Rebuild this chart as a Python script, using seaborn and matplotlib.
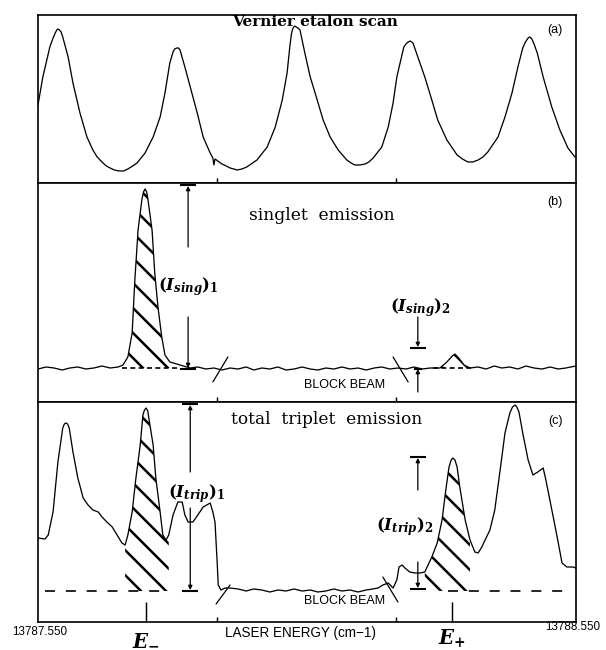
import numpy as np
import matplotlib
matplotlib.use("Agg")
import matplotlib.pyplot as plt
import seaborn as sns

# ---------------- data (x = offset from 13787.550 in 1e-3 cm-1) ----------------
E0 = 13787.550
x_start_label = "13787.550"
x_end_label = "13788.550"

# (a) Vernier etalon scan
etalon_x = [0, 9, 22, 28, 32, 35, 37, 40, 43, 46, 56, 65, 78, 91, 102, 110, 119, 127, 134, 142, 151, 159,
            167, 176, 184, 199, 214, 227, 236, 245, 251, 254, 258, 261, 264, 273, 283, 296, 307, 320, 325,
            327, 329, 342, 350, 357, 364, 370, 379, 388, 407, 426, 441, 454, 463, 468, 471, 474, 477, 480,
            483, 487, 496, 506, 519, 530, 543, 558, 574, 582, 589, 598, 608, 615, 623, 639, 651, 660, 667,
            673, 680, 684, 688, 692, 697, 706, 719, 732, 743, 760, 779, 789, 799, 808, 818, 827, 836, 855,
            868, 881, 892, 901, 906, 911, 914, 918, 922, 928, 939, 955, 970, 985, 998]
etalon_y = [78, 106, 136, 145, 150, 153, 154, 153, 151, 146, 126, 100, 70, 46, 33, 26, 21, 17, 15, 13, 12, 12,
            14, 17, 20, 30, 46, 66, 90, 120, 131, 134, 135, 135, 133, 116, 96, 70, 46, 30, 25,
            18, 24, 19, 17, 15, 14, 13, 14, 16, 23, 36, 56, 83, 110, 136, 149, 155, 157, 156,
            155, 153, 130, 106, 83, 63, 46, 33, 23, 20, 18, 18, 19, 21, 25, 36, 56, 80, 106,
            120, 136, 139, 141, 142, 140, 126, 106, 83, 63, 43, 28, 24, 21, 21, 23, 26, 31, 46,
            66, 90, 116, 135, 141, 145, 146, 144, 139, 130, 106, 76, 53, 35, 26]

# (b) singlet emission
sing_x = [0, 15, 30, 45, 59, 74, 89, 104, 119, 134, 149, 158, 167, 175, 180, 186, 193, 196, 199, 202, 204, 212,
          217, 223, 230, 236, 245, 258, 270, 283, 297, 312, 327, 342, 357, 372, 387, 401, 416, 431, 446, 461,
          476, 491, 506, 520, 535, 550, 565, 580, 595, 610, 625, 639, 654, 669, 684, 699, 714, 729, 747, 760,
          770, 775, 782, 792, 803, 818, 833, 848, 862, 877, 892, 907, 922, 937, 952, 967, 981, 1000]
sing_y = [33, 35, 34, 32, 34, 35, 33, 34, 36, 34, 35, 37, 45, 69, 122, 172, 202, 210, 213, 210, 204, 172,
          129, 95, 65, 47, 40, 38, 36, 34, 35, 33, 34, 32, 34, 33, 35, 32, 34, 33, 35, 32,
          33, 35, 33, 32, 34, 33, 35, 33, 34, 32, 34, 35, 33, 34, 33, 35, 33, 34, 34, 40,
          46, 48, 44, 37, 34, 35, 33, 36, 34, 35, 33, 36, 34, 33, 35, 33, 34, 36]

# (c) total triplet emission
trip_x = [0, 13, 19, 28, 37, 46, 49, 52, 55, 58, 65, 74, 84, 93, 102, 112, 119, 128, 138, 147, 156, 162,
          167, 175, 182, 190, 195, 198, 201, 204, 206, 214, 219, 227, 232, 238, 243, 251, 260, 268, 273, 279, 288, 297,
          307, 320, 325, 329, 333, 335, 340, 348, 357, 372, 387, 401, 416, 431, 446, 461, 476, 491, 506, 520,
          535, 550, 565, 580, 595, 610, 622, 632, 641, 651, 660, 667, 671, 677, 682, 691, 701, 710, 719, 725,
          732, 742, 751, 758, 764, 768, 771, 775, 779, 784, 794, 803, 812, 818, 825, 831, 840, 849, 859, 868, 877,
          882, 887, 890, 894, 901, 911, 920, 929, 939, 944, 954, 965, 974, 983, 994, 1000]
trip_y = [84, 83, 87, 110, 160, 194, 198, 199, 198, 194, 170, 144, 124, 117, 112, 110, 105, 100, 95, 87, 79, 77,
          87, 110, 144, 177, 207, 212, 214, 211, 204, 177, 144, 110, 87, 82, 87, 107, 120, 120, 107, 100, 100, 107,
          115, 119, 110, 100, 60, 37, 32, 34, 34, 33, 31, 33, 32, 30, 32, 31, 33, 31, 32, 30,
          31, 33, 31, 32, 30, 32, 33, 34, 37, 39, 34, 42, 55, 57, 54, 50, 49, 49, 50, 57,
          65, 79, 102, 132, 155, 162, 164, 162, 155, 135, 102, 82, 70, 69, 75, 82, 92, 112, 152, 189, 209,
          215, 217, 215, 210, 189, 162, 147, 150, 154, 142, 115, 85, 59, 55, 55, 54]

# baselines, hatched peak ranges, E markers
sing_base = 34
trip_base = 31
sing_hatch = [(167, 245), (747, 803)]
trip_hatch = [(162, 243), (719, 803)]
sing_dash = [(156, 262), (735, 805)]
trip_dash = [(13, 245), (762, 976)]
E_minus, E_plus = 201, 770
block_ticks = [332, 666]
sing_breaks = [((325, 20), (353, 45)), ((660, 45), (688, 20))]
trip_breaks = [((331, 18), (357, 37)), ((641, 45), (669, 20))]


def en(m):
    return E0 + np.asarray(m, dtype=float) / 1000.0


# ---------------- style ----------------
sns.set_style("white")
plt.rcParams.update({
    "font.family": ["DejaVu Serif"],
    "mathtext.fontset": "custom",
    "mathtext.rm": "DejaVu Serif:bold",
    "mathtext.it": "DejaVu Serif:italic:bold",
    "mathtext.bf": "DejaVu Serif:bold",
    "hatch.linewidth": 1.2,
    "axes.edgecolor": "black",
    "axes.linewidth": 0.8,
    "text.color": "black",
})

DPI = 150
fig = plt.figure(figsize=(606 / DPI, 650 / DPI), dpi=DPI)
L, W = 38 / 606, 538 / 606
ax_a = fig.add_axes([L, 1 - 183 / 650, W, 168 / 650])
ax_b = fig.add_axes([L, 1 - 402 / 650, W, 219 / 650])
ax_c = fig.add_axes([L, 1 - 622 / 650, W, 220 / 650])

LW = 0.62
sns.lineplot(x=en(etalon_x), y=etalon_y, ax=ax_a, color="black", lw=LW, estimator=None, sort=False)
sns.lineplot(x=en(sing_x), y=sing_y, ax=ax_b, color="black", lw=LW, estimator=None, sort=False)
sns.lineplot(x=en(trip_x), y=trip_y, ax=ax_c, color="black", lw=LW, estimator=None, sort=False)

ax_a.set_ylim(0, 168)
ax_b.set_ylim(0, 219)
ax_c.set_ylim(0, 220)

for ax in (ax_a, ax_b, ax_c):
    ax.set_xlim(E0, E0 + 1.0)
    ax.set_yticks([])
    ax.set_xlabel("")
    ax.set_ylabel("")
    ax.set_xticks(en(block_ticks))
    ax.tick_params(axis="x", direction="in", length=2.4, width=0.7, bottom=True, labelbottom=False,
                   color="black")
    for s in ax.spines.values():
        s.set_visible(True)
        s.set_color("black")
        s.set_linewidth(0.8)

ax_c.set_xticks(en([E_minus, E_plus]))
ax_c.set_xticks(en(block_ticks), minor=True)
ax_c.tick_params(axis="x", which="major", direction="in", length=9.6, width=0.7, bottom=True,
                 labelbottom=False, color="black")
ax_c.tick_params(axis="x", which="minor", direction="in", length=2.4, width=0.7, bottom=True, color="black")


def hatch_region(ax, xs, ys, base, spans):
    xs = np.asarray(xs)
    ys = np.asarray(ys)
    for lo, hi in spans:
        m = (xs >= lo) & (xs <= hi)
        ax.fill_between(en(xs[m]), ys[m], base, facecolor="none", edgecolor="black",
                        linewidth=0, hatch="\\\\")


hatch_region(ax_b, sing_x, sing_y, sing_base, sing_hatch)
hatch_region(ax_c, trip_x, trip_y, trip_base, trip_hatch)

for lo, hi in sing_dash:
    ax_b.plot(en([lo, hi]), [sing_base, sing_base], color="black", lw=0.8, ls=(0, (3, 2)))
for lo, hi in trip_dash:
    ax_c.plot(en([lo, hi]), [trip_base, trip_base], color="black", lw=0.8, ls=(0, (6, 6.5)))

for (p, q) in sing_breaks:
    ax_b.plot(en([p[0], q[0]]), [p[1], q[1]], color="black", lw=0.6)
for (p, q) in trip_breaks:
    ax_c.plot(en([p[0], q[0]]), [p[1], q[1]], color="black", lw=0.6)


def arrow(ax, x, y_from, y_to):
    ax.annotate("", xy=(en(x), y_to), xytext=(en(x), y_from),
                arrowprops=dict(arrowstyle="-|>", color="black", lw=0.6,
                                mutation_scale=4, shrinkA=0, shrinkB=0))


def bar(ax, x, y, half=15):
    ax.plot(en([x - half, x + half]), [y, y], color="black", lw=1.0, solid_capstyle="butt")


# (I_sing)_1
bar(ax_b, 279, 217); bar(ax_b, 279, 33)
arrow(ax_b, 279, 155, 216); arrow(ax_b, 279, 85, 34)
ax_b.text(en(279), 115, r"$(I_{sing})_1$", ha="center", va="center", fontsize=8)
# (I_sing)_2
bar(ax_b, 706, 54); bar(ax_b, 706, 33, half=7)
arrow(ax_b, 706, 85, 55); arrow(ax_b, 706, 10, 33)
ax_b.text(en(711), 94, r"$(I_{sing})_2$", ha="center", va="center", fontsize=8)
# (I_trip)_1
bar(ax_c, 283, 218); bar(ax_c, 283, 31)
arrow(ax_c, 283, 150, 217); arrow(ax_c, 283, 114, 32)
ax_c.text(en(295), 128, r"$(I_{trip})_1$", ha="center", va="center", fontsize=8)
# (I_trip)_2
bar(ax_c, 706, 165); bar(ax_c, 706, 33)
arrow(ax_c, 706, 132, 164); arrow(ax_c, 706, 60, 34)
ax_c.text(en(682), 95, r"$(I_{trip})_2$", ha="center", va="center", fontsize=8)

# titles
ax_a.text(en(515), 161, "Vernier etalon scan", ha="center", va="center", fontsize=7.3, fontweight="bold")
ax_b.text(en(528), 187, "singlet  emission", ha="center", va="center", fontsize=8.2)
ax_c.text(en(537), 202, "total  triplet  emission", ha="center", va="center", fontsize=8.2)
SANS = ["Liberation Sans", "DejaVu Sans"]
ax_a.text(en(961), 153, "(a)", ha="center", va="center", fontsize=6, family=SANS)
ax_b.text(en(961), 200, "(b)", ha="center", va="center", fontsize=6, family=SANS)
ax_c.text(en(961), 201, "(c)", ha="center", va="center", fontsize=6, family=SANS)
ax_b.text(en(570), 17, "BLOCK BEAM", ha="center", va="center", fontsize=6, family=SANS)
ax_c.text(en(570), 21, "BLOCK BEAM", ha="center", va="center", fontsize=6, family=SANS)

# x-axis annotations
tr = ax_c.get_xaxis_transform()
ax_c.text(en(4), -0.045, x_start_label, transform=tr, ha="center", va="center", fontsize=5.6, family=SANS)
ax_c.text(en(1045), -0.023, x_end_label, transform=tr, ha="right", va="center", fontsize=5.6, family=SANS)
ax_c.text(en(487), -0.05, "LASER ENERGY (cm\u22121)", transform=tr, ha="center", va="center", fontsize=6.5, family=SANS)
ax_c.text(en(E_minus), -0.08, r"$E_{-}$", transform=tr, ha="center", va="center", fontsize=9.5)
ax_c.text(en(E_plus), -0.075, r"$E_{+}$", transform=tr, ha="center", va="center", fontsize=9.5)

fig.savefig("out.png", dpi=DPI)
